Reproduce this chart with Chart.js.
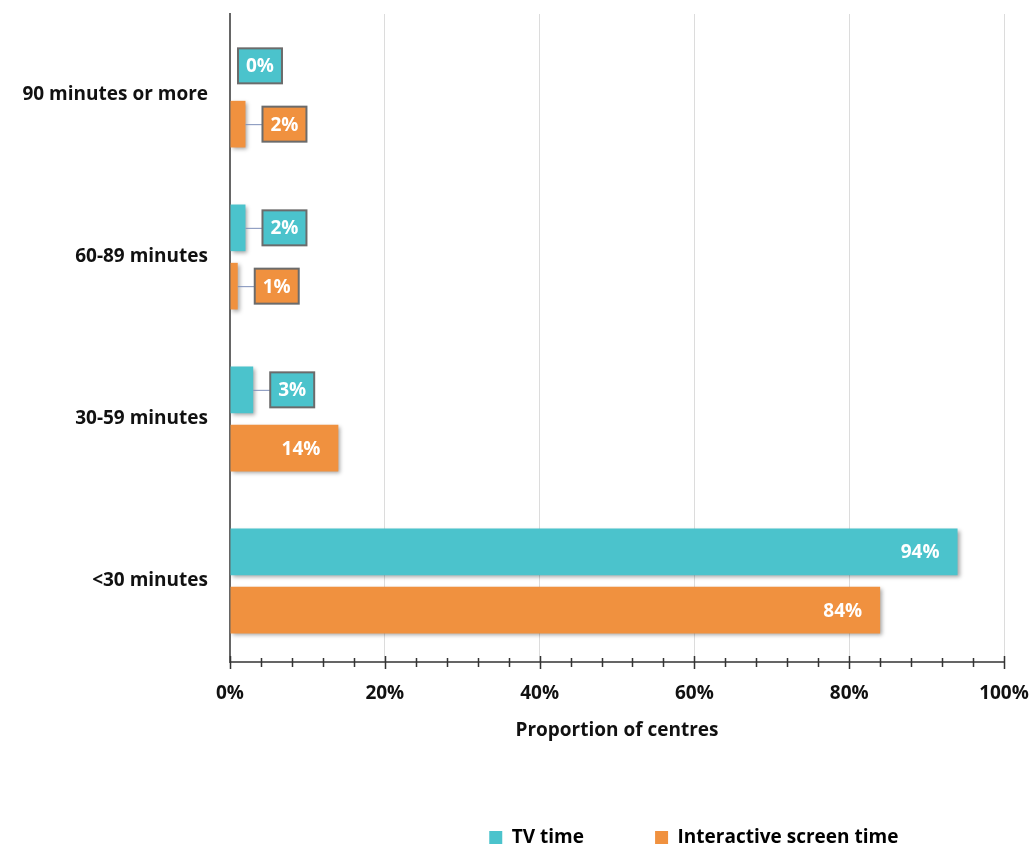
<!DOCTYPE html>
<html>
<head>
<meta charset="utf-8">
<script src="https://cdn.jsdelivr.net/npm/chart.js@4"></script>
<style>
  html, body { margin: 0; padding: 0; background: #fff; }
  #wrap { width: 1035px; height: 849px; }
</style>
</head>
<body>
<div id="wrap"><canvas id="chart"></canvas></div>
<script>
const categories = ['90 minutes or more', '60-89 minutes', '30-59 minutes', '<30 minutes'];
const tvTime = [0, 2, 3, 94];
const interactiveTime = [2, 1, 14, 84];
const seriesNames = ['TV time', 'Interactive screen time'];
const xTicks = [0, 20, 40, 60, 80, 100];

const TEAL = '#4bc3cc';
const ORANGE = '#f0913f';
const FONT = "'Open Sans', sans-serif";

// shadow under the bars + boxed value labels
const barDecor = {
  id: 'barDecor',
  beforeDatasetsDraw(chart) {
    const ctx = chart.ctx;
    ctx.save();
    ctx.shadowColor = 'rgba(0,0,0,0.35)';
    ctx.shadowBlur = 4;
    ctx.shadowOffsetX = 2;
    ctx.shadowOffsetY = 2;
  },
  afterDatasetsDraw(chart) {
    const ctx = chart.ctx;
    ctx.restore();
    ctx.save();
    ctx.font = 'bold 19px ' + FONT;
    ctx.textBaseline = 'middle';
    chart.data.datasets.forEach((ds, i) => {
      const meta = chart.getDatasetMeta(i);
      meta.data.forEach((bar, j) => {
        const v = ds.data[j];
        const txt = v + '%';
        const w = ctx.measureText(txt).width;
        const y = bar.y;
        if (v >= 10) {
          ctx.fillStyle = '#fff';
          ctx.textAlign = 'right';
          ctx.fillText(txt, bar.x - 18, y + 1);
          return;
        }
        const boxW = w + 16, boxH = 35;
        const left = v > 0 ? bar.x + 17 : bar.x + 8;
        if (v > 0) {
          ctx.strokeStyle = '#7d8fb8';
          ctx.lineWidth = 1;
          ctx.beginPath();
          ctx.moveTo(bar.x, y + 0.5);
          ctx.lineTo(left, y + 0.5);
          ctx.stroke();
        }
        ctx.fillStyle = ds.backgroundColor;
        ctx.fillRect(left, y - boxH / 2, boxW, boxH);
        ctx.strokeStyle = '#6b6b6b';
        ctx.lineWidth = 2;
        ctx.strokeRect(left, y - boxH / 2, boxW, boxH);
        ctx.fillStyle = '#fff';
        ctx.textAlign = 'center';
        ctx.fillText(txt, left + boxW / 2, y + 1);
      });
    });
    ctx.restore();
  },
  afterDraw(chart) {
    // axis tick marks every 4 %, crossing the axis line
    const ctx = chart.ctx;
    const xs = chart.scales.x;
    const yb = chart.chartArea.bottom;
    ctx.save();
    ctx.strokeStyle = '#333';
    ctx.lineWidth = 1.5;
    ctx.beginPath();
    ctx.moveTo(xs.left, yb);
    ctx.lineTo(xs.right, yb);
    for (let v = 0; v <= 100; v += 4) {
      const x = Math.round(xs.getPixelForValue(v)) + 0.5;
      const major = v % 20 === 0;
      ctx.moveTo(x, yb - (major ? 6 : 4));
      ctx.lineTo(x, yb + (major ? 7 : 5));
    }
    ctx.stroke();
    ctx.restore();
  }
};

new Chart(document.getElementById('chart'), {
  type: 'bar',
  data: {
    labels: categories,
    datasets: [
      { label: seriesNames[0], data: tvTime, backgroundColor: TEAL },
      { label: seriesNames[1], data: interactiveTime, backgroundColor: ORANGE }
    ]
  },
  options: {
    indexAxis: 'y',
    responsive: true,
    maintainAspectRatio: false,
    animation: false,
    datasets: { bar: { categoryPercentage: 0.72, barPercentage: 0.8 } },
    layout: { padding: { top: 14, right: 31, left: 0, bottom: -8 } },
    scales: {
      x: {
        min: 0,
        max: 100,
        afterBuildTicks: s => { s.ticks = xTicks.map(v => ({ value: v })); },
        afterFit: s => { s.height = 164; s.paddingLeft = 0; s.paddingRight = 0; },
        border: { display: false },
        grid: { color: '#dcdcdc', drawTicks: false, lineWidth: 1 },
        ticks: {
          padding: 20,
          color: '#111',
          font: { family: FONT, size: 19, weight: 'bold' },
          callback: v => v + '%'
        },
        title: {
          display: true,
          text: 'Proportion of centres',
          color: '#111',
          font: { family: FONT, size: 19, weight: 'bold' },
          padding: { top: 0, bottom: 84 }
        }
      },
      y: {
        afterFit: s => { s.width = 230; s.paddingTop = 0; s.paddingBottom = 0; },
        border: { color: '#666', width: 2 },
        grid: { display: false, drawTicks: false },
        ticks: {
          padding: 22,
          color: '#111',
          font: { family: FONT, size: 19, weight: 'bold' }
        }
      }
    },
    plugins: {
      legend: {
        position: 'bottom',
        align: 'end',
        labels: {
          boxWidth: 13,
          boxHeight: 13,
          padding: 2,
          color: '#111',
          font: { family: FONT, size: 19, weight: 'bold' },
          generateLabels: chart => chart.data.datasets.map((ds, i) => ({
            text: ds.label + (i === 0 ? '              ' : '                     '),
            fillStyle: ds.backgroundColor,
            strokeStyle: ds.backgroundColor,
            lineWidth: 0,
            datasetIndex: i
          }))
        }
      },
      tooltip: { enabled: false }
    }
  },
  plugins: [barDecor]
});
</script>
</body>
</html>
